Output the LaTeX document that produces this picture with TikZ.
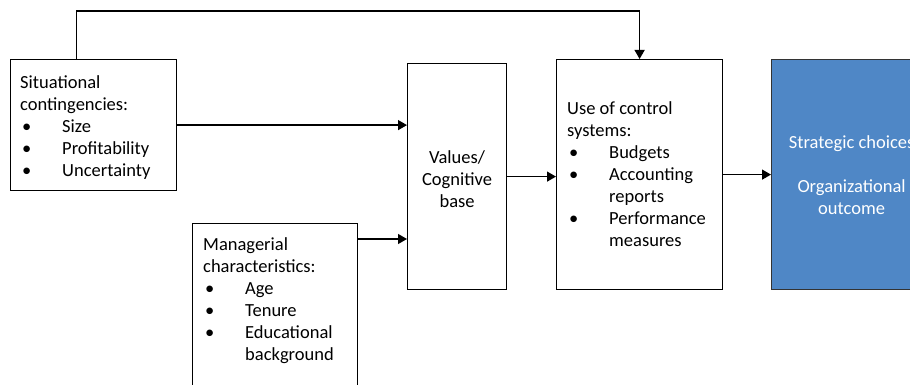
\documentclass[tikz,border=0pt]{standalone}
\usepackage{fontspec}
\setmainfont{Carlito}
\usetikzlibrary{arrows.meta,calc}
\definecolor{outcomeblue}{RGB}{79,135,198}
\newcommand\blt{\makebox[42pt][l]{\hspace{2pt}\textbullet}}
\newcommand\cont{\hspace*{42pt}}
\begin{document}
\begin{tikzpicture}[x=1pt,y=-1pt,
  box/.style={draw=black,line width=1.2pt,fill=white,rectangle,inner sep=0pt,anchor=north west},
  label/.style={inner sep=0pt,anchor=north west,align=left,font=\fontsize{18.5}{22}\selectfont},
  arr/.style={line width=1.2pt,-{Triangle[length=9pt,width=10pt]}}]
\useasboundingbox (0,0) rectangle (910,385);
\clip (0,0) rectangle (910,385);
% boxes
\node[box,minimum width=166pt,minimum height=131pt] (sit) at (10,59) {};
\node[box,minimum width=165pt,minimum height=190pt] (man) at (192,223) {};
\node[box,minimum width=99pt,minimum height=226pt] (val) at (407,63) {};
\node[box,minimum width=166pt,minimum height=230pt] (use) at (556,59) {};
\node[box,fill=outcomeblue,draw=black!80,minimum width=160pt,minimum height=230pt] (out) at (771,59) {};
% texts
\node[label] (sitT) at (20,75) {Situational\\contingencies:\\\blt Size\\\blt Profitability\\\blt Uncertainty};
\node[label] (manT) at (203,237) {Managerial\\characteristics:\\\blt Age\\\blt Tenure\\\blt Educational\\\cont background};
\node[label] (useT) at (567,101) {Use of control\\systems:\\\blt Budgets\\\blt Accounting\\\cont reports\\\blt Performance\\\cont measures};
\node[label,anchor=north,align=center] (valT) at (val.center |- 0,150) {Values/\\Cognitive\\base};
\node[label,anchor=north,align=center,text=white] (outT) at (out.center |- 0,135) {Strategic choices\\[22pt]Organizational\\outcome};
% connectors
\draw[arr] ($(sit.north west)!0.4!(sit.north east)$) -- ++(0,-48) -| (use.north);
\draw[arr] (sit.east) -- (sit.east -| val.west);
\draw[arr] ([yshift=-16pt]man.north east) -- ([yshift=-16pt]man.north east -| val.west);
\draw[arr] (val.east) -- (val.east -| use.west);
\draw[arr] (use.east) -- (out.west);
\end{tikzpicture}
\end{document}
